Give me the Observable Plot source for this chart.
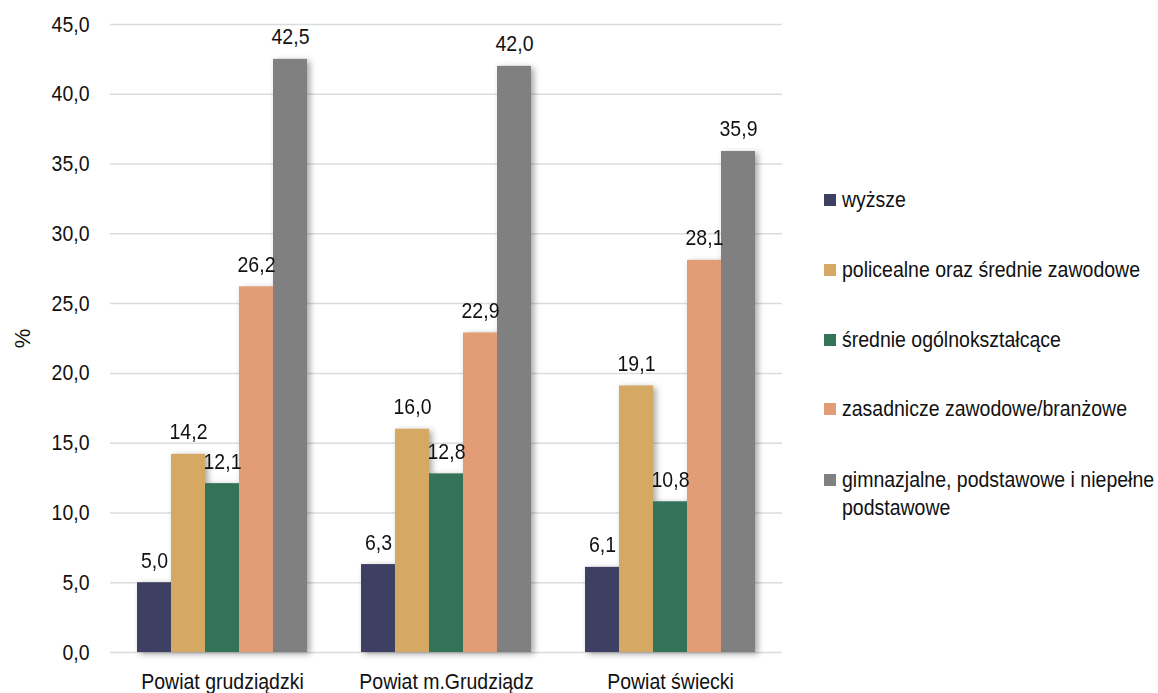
<!DOCTYPE html>
<html>
<head>
<meta charset="utf-8">
<script src="https://cdn.jsdelivr.net/npm/d3@7"></script>
<script src="https://cdn.jsdelivr.net/npm/@observablehq/plot@0.6"></script>
<style>
  html, body { margin: 0; padding: 0; background: #fff; }
  #wrap { position: relative; width: 1158px; height: 693px; font-family: "Liberation Sans", Arial, sans-serif; }
  #legend { position: absolute; left: 824px; top: 0; color: #111; font-size: 22px; }
  .item { position: absolute; left: 0; display: flex; align-items: flex-start; white-space: nowrap; line-height: 28px; }
  .sw { width: 12px; height: 12px; margin-right: 6px; margin-top: 8px; flex: none; }
  .tx { display: inline-block; transform: scaleX(0.886); transform-origin: left center; }
</style>
</head>
<body>
<div id="wrap"><div id="chart"></div><div id="legend"></div></div>
<script>
const groups = ["Powiat grudziądzki", "Powiat m.Grudziądz", "Powiat świecki"];
const series = ["wyższe", "policealne oraz średnie zawodowe", "średnie ogólnokształcące", "zasadnicze zawodowe/branżowe", "gimnazjalne, podstawowe i niepełne podstawowe"];
const wyzsze = [5.0, 6.3, 6.1];
const policealne = [14.2, 16.0, 19.1];
const srednieOgolne = [12.1, 12.8, 10.8];
const zasadnicze = [26.2, 22.9, 28.1];
const gimnazjalne = [42.5, 42.0, 35.9];
const yTicks = [0, 5, 10, 15, 20, 25, 30, 35, 40, 45];
const colors = ["#3d3f63", "#d5a863", "#33735a", "#e29d77", "#808080"];

const seriesValues = [wyzsze, policealne, srednieOgolne, zasadnicze, gimnazjalne];
const data = [];
groups.forEach((g, gi) => series.forEach((s, si) => data.push({group: g, series: s, value: seriesValues[si][gi]})));

const fmt = v => v.toFixed(1).replace(".", ",");
const FONT = "\"Liberation Sans\", Arial, sans-serif";
const SQUEEZE = 0.886;

const plot = Plot.plot({
  width: 1158,
  height: 693,
  marginTop: 24,
  marginBottom: 41,
  marginLeft: 110,
  marginRight: 375,
  style: {fontFamily: FONT, fontSize: "22px", color: "#111", background: "#fff"},
  fx: {domain: groups, paddingInner: 0.232, paddingOuter: 0.116, label: null, axis: "bottom", tickSize: 0, tickPadding: 21},
  x: {domain: series, padding: 0, axis: null},
  y: {domain: [0, 45], ticks: yTicks, tickFormat: fmt, tickSize: 0, tickPadding: 47, label: "%", labelAnchor: "center", labelArrow: "none", labelOffset: 122},
  color: {domain: series, range: colors},
  marks: [
    Plot.ruleY(yTicks, {y: d => d, stroke: "#dcdcdc", strokeWidth: 1.5, insetLeft: -26, insetRight: -26}),
    Plot.barY(data, {fx: "group", x: "series", y: "value", fill: "series", inset: 0}),
    Plot.text(data, {fx: "group", x: "series", y: "value", text: d => fmt(d.value), lineAnchor: "bottom", dy: -15, fontSize: 22, fill: "#111"})
  ]
});

const barG = plot.querySelector('g[aria-label="bar"]');
if (barG) barG.style.filter = "drop-shadow(3px 2px 3px rgba(0,0,0,0.35))";
document.getElementById("chart").appendChild(plot);

// emulate a narrow typeface: compress glyphs to a shorter text length
plot.querySelectorAll("text").forEach(t => {
  const lab = t.parentNode && t.parentNode.getAttribute && t.parentNode.getAttribute("aria-label");
  if (lab === "y-axis label") return;
  if (t.querySelector("tspan")) return;
  const len = t.getComputedTextLength();
  if (len > 0) {
    t.setAttribute("textLength", (len * SQUEEZE).toFixed(2));
    t.setAttribute("lengthAdjust", "spacingAndGlyphs");
  }
});

const legend = document.getElementById("legend");
const tops = [186, 256, 326, 395, 466];
series.forEach((s, i) => {
  const it = document.createElement("div");
  it.className = "item";
  it.style.top = tops[i] + "px";
  const sw = document.createElement("span");
  sw.className = "sw";
  sw.style.background = colors[i];
  const tx = document.createElement("span");
  tx.className = "tx";
  if (i === 4) { tx.innerHTML = "gimnazjalne, podstawowe i niepełne<br>podstawowe"; } else { tx.textContent = s; }
  it.appendChild(sw); it.appendChild(tx);
  legend.appendChild(it);
});
</script>
</body>
</html>
